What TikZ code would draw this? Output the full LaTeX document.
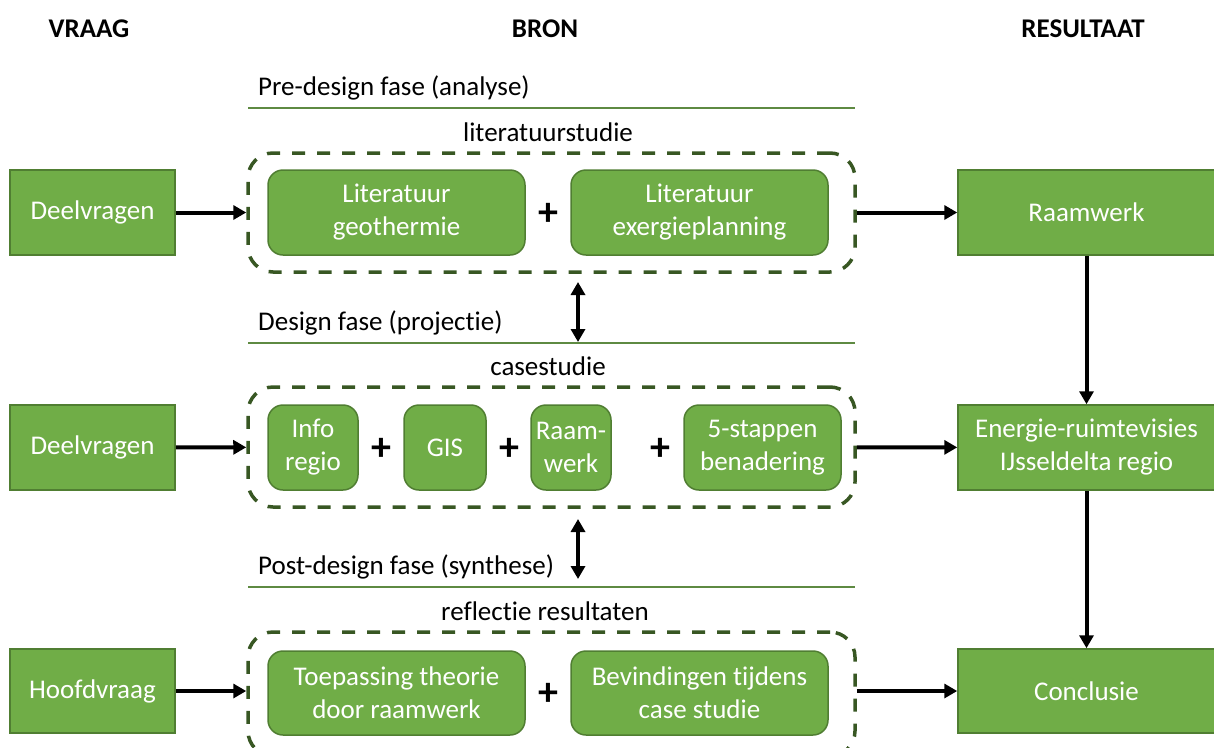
\documentclass[tikz,border=0pt]{standalone}
\usepackage{fontspec}
\setmainfont{Carlito}[Ligatures=NoCommon]
\usetikzlibrary{arrows.meta}
\definecolor{boxfill}{HTML}{70AD47}
\definecolor{boxline}{HTML}{507E32}
\definecolor{dashline}{HTML}{385723}
\definecolor{ruleline}{HTML}{5E8A42}

\begin{document}
\begin{tikzpicture}[x=1pt,y=-1pt,
  txt/.style={font=\fontsize{27}{33}\selectfont, inner sep=0pt},
  head/.style={font=\fontsize{27}{33}\selectfont\bfseries, inner sep=0pt, anchor=base},
  sqbox/.style={draw=boxline, line width=1.5pt, fill=boxfill, text=white, align=center,
    font=\fontsize{27}{33}\selectfont, inner sep=0pt},
  rbox/.style={sqbox, rounded corners=15pt},
  group/.style={draw=dashline, line width=3.5pt, dash pattern=on 13pt off 12pt,
    rounded corners=25pt, inner sep=0pt},
  flow/.style={line width=4pt, -{Triangle[length=13pt,width=14pt]}},
  flowboth/.style={line width=4pt, {Triangle[length=13pt,width=14pt]}-{Triangle[length=13pt,width=14pt]}},
  plus/.style={font=\fontsize{40}{40}\selectfont\bfseries, inner sep=0pt},
  rule/.style={draw=ruleline, line width=1.5pt},
]
\clip (0,0) rectangle (1214,747);
\useasboundingbox (0,0) rectangle (1214,747);

% column headings
\node[head] (vraag) at (89,37) {VRAAG};
\node[head] (bron) at (545,37) {BRON};
\node[head] (result) at (1083,37) {RESULTAAT};

% phase headings with rules
\node[txt, anchor=base west] (ph1) at (258,95) {Pre-design fase (analyse)};
\draw[rule] (248,108) coordinate (r1a) -- (855,108) coordinate (r1b);
\node[txt, anchor=base west] (ph2) at (258,330) {Design fase (projectie)};
\draw[rule] (248,343) coordinate (r2a) -- (855,343) coordinate (r2b);
\node[txt, anchor=base west] (ph3) at (258,574) {Post-design fase (synthese)};
\draw[rule] (248,587) coordinate (r3a) -- (855,587) coordinate (r3b);

% group titles
\node[txt, anchor=base] (g1t) at (548,141) {literatuurstudie};
\node[txt, anchor=base] (g2t) at (548,375) {casestudie};
\node[txt, anchor=base] (g3t) at (545,620) {reflectie resultaten};

% dashed groups
\node[group, minimum width=607pt, minimum height=119pt] (grp1) at (551.5,212.5) {};
\node[group, minimum width=607pt, minimum height=120pt] (grp2) at (551.5,447) {};
\node[group, minimum width=607pt, minimum height=124pt] (grp3) at (551.5,694) {};

% row 1
\node[sqbox, minimum width=165pt, minimum height=85pt] (dv1) at (92.5,212.5) {Deelvragen};
\node[rbox, minimum width=257pt, minimum height=85pt] (lit1) at (396.5,212.5) {Literatuur\\geothermie};
\node[plus] (p1) at (548,214) {+};
\node[rbox, minimum width=257pt, minimum height=85pt] (lit2) at (699.5,212.5) {Literatuur\\exergieplanning};
\node[sqbox, minimum width=257pt, minimum height=85pt] (raam) at (1086.5,212.5) {Raamwerk};

% row 2
\node[sqbox, minimum width=165pt, minimum height=85pt] (dv2) at (92.5,447.5) {Deelvragen};
\node[rbox, minimum width=90pt, minimum height=85pt] (info) at (313,447.5) {Info\\regio};
\node[plus] (p2) at (381,449) {+};
\node[rbox, minimum width=82pt, minimum height=85pt] (gis) at (445,447.5) {GIS};
\node[plus] (p3) at (509,449) {+};
\node[rbox, minimum width=80pt, minimum height=85pt] (rw) at (571,447.5) {Raam-\\werk};
\node[plus] (p4) at (660,449) {+};
\node[rbox, minimum width=157pt, minimum height=85pt] (stap) at (762.5,447.5) {5-stappen\\benadering};
\node[sqbox, minimum width=257pt, minimum height=85pt] (ener) at (1086.5,447.5) {Energie-ruimtevisies\\IJsseldelta regio};

% row 3
\node[sqbox, minimum width=165pt, minimum height=84pt] (hv) at (92.5,691) {Hoofdvraag};
\node[rbox, minimum width=257pt, minimum height=84pt] (toep) at (396.5,693) {Toepassing theorie\\door raamwerk};
\node[plus] (p5) at (548,694) {+};
\node[rbox, minimum width=257pt, minimum height=84pt] (bev) at (699.5,693) {Bevindingen tijdens\\case studie};
\node[sqbox, minimum width=257pt, minimum height=84pt] (concl) at (1086.5,691) {Conclusie};

% connectors
\draw[flow] (dv1) -- (grp1);
\draw[flow] (grp1) -- (raam);
\draw[flow] (dv2) -- (grp2);
\draw[flow] (grp2) -- (ener);
\draw[flow] (hv.east) -- (hv.east -| grp3.west);
\draw[flow] (grp3.east |- concl.west) -- (concl.west);
\draw[flow] (raam) -- (ener);
\draw[flow] (ener) -- (concl);

\coordinate (d1a) at (578,282);
\coordinate (d1b) at (578,342);
\coordinate (d2a) at (578,519);
\coordinate (d2b) at (578,579);
\draw[flowboth] (d1a) -- (d1b);
\draw[flowboth] (d2a) -- (d2b);
\end{tikzpicture}
\end{document}
